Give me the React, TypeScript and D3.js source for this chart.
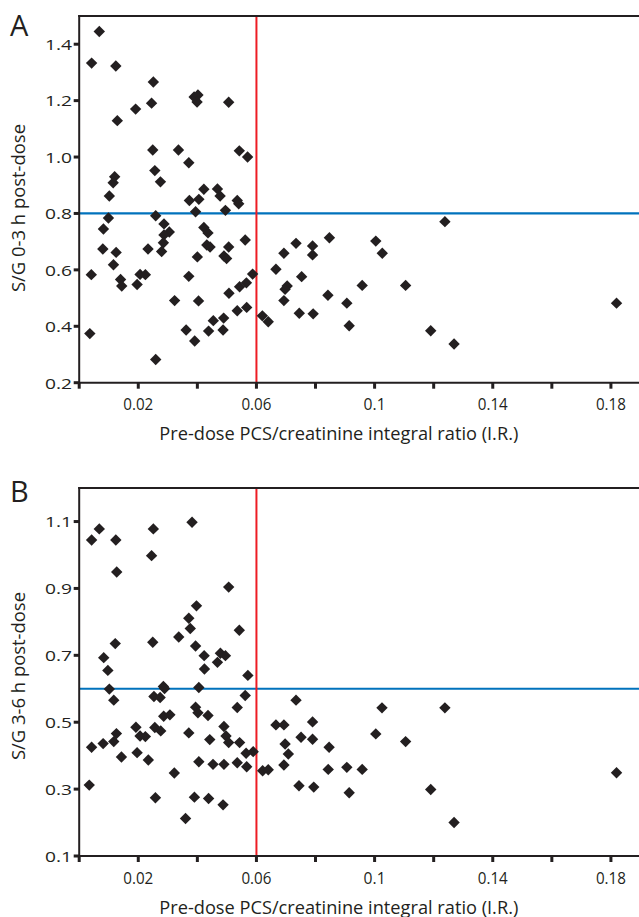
import React from "react";
import * as d3 from "d3";

// ---- Data ----
const xA = [0.0068,0.0042,0.0124,0.0251,0.0245,0.0191,0.0129,0.0389,0.0402,0.0399,
  0.0506,0.0249,0.0336,0.0542,0.0570,0.0371,0.0256,0.0120,0.0115,0.0275,
  0.0102,0.0422,0.0468,0.0477,0.0373,0.0405,0.0535,0.0540,0.0394,0.0495,
  0.0099,0.0259,0.0082,0.0287,0.0422,0.0305,0.0287,0.0436,0.0562,0.0285,
  0.0432,0.0443,0.0506,0.0080,0.0125,0.0233,0.0279,0.0400,0.0490,0.0499,
  0.0116,0.0041,0.0206,0.0224,0.0140,0.0144,0.0196,0.0371,0.0587,0.0566,
  0.0543,0.0507,0.0323,0.0404,0.0535,0.0567,0.0620,0.0640,0.0036,0.0362,
  0.0438,0.0454,0.0489,0.0487,0.0391,0.0259,0.0666,0.0693,0.0734,0.0790,
  0.0790,0.0847,0.0753,0.0704,0.0697,0.0693,0.0745,0.0792,0.0842,0.0958,
  0.0906,0.0914,0.1004,0.1026,0.1105,0.1238,0.1190,0.1269,0.1819];
const yA = [1.445,1.333,1.323,1.266,1.191,1.170,1.129,1.213,1.220,1.195,
  1.194,1.025,1.025,1.022,1.000,0.980,0.952,0.930,0.909,0.912,
  0.862,0.886,0.887,0.862,0.846,0.850,0.846,0.834,0.806,0.811,
  0.784,0.792,0.745,0.763,0.750,0.734,0.724,0.731,0.706,0.696,
  0.688,0.681,0.681,0.674,0.662,0.674,0.665,0.646,0.649,0.640,
  0.618,0.583,0.584,0.583,0.566,0.543,0.548,0.577,0.585,0.554,
  0.540,0.517,0.491,0.490,0.455,0.467,0.437,0.416,0.374,0.387,
  0.383,0.420,0.429,0.387,0.348,0.282,0.602,0.659,0.694,0.685,
  0.653,0.714,0.576,0.543,0.531,0.491,0.446,0.444,0.510,0.545,
  0.482,0.402,0.702,0.659,0.545,0.771,0.384,0.337,0.482];

const xB = [0.0042,0.0068,0.0124,0.0251,0.0245,0.0127,0.0382,0.0397,0.0371,0.0376,
  0.0337,0.0249,0.0122,0.0083,0.0394,0.0423,0.0478,0.0495,0.0468,0.0097,
  0.0424,0.0506,0.0542,0.0571,0.0285,0.0289,0.0102,0.0405,0.0117,0.0253,
  0.0274,0.0562,0.0535,0.0394,0.0402,0.0436,0.0286,0.0307,0.0490,0.0497,
  0.0506,0.0192,0.0256,0.0276,0.0126,0.0117,0.0371,0.0206,0.0224,0.0442,
  0.0543,0.0042,0.0081,0.0565,0.0589,0.0143,0.0196,0.0234,0.0405,0.0453,
  0.0490,0.0535,0.0567,0.0621,0.0640,0.0322,0.0034,0.0258,0.0390,0.0438,
  0.0487,0.0360,0.0734,0.0666,0.0693,0.0697,0.0708,0.0693,0.0751,0.0790,
  0.0790,0.0846,0.0843,0.0744,0.0794,0.0906,0.0958,0.0914,0.1004,0.1025,
  0.1105,0.1238,0.1190,0.1269,0.1819];
const yB = [1.045,1.078,1.045,1.078,0.998,0.949,1.098,0.848,0.811,0.780,
  0.755,0.739,0.735,0.693,0.728,0.699,0.706,0.699,0.679,0.655,
  0.659,0.904,0.775,0.640,0.607,0.601,0.599,0.604,0.566,0.577,
  0.574,0.580,0.544,0.545,0.528,0.520,0.518,0.522,0.487,0.459,
  0.439,0.485,0.484,0.474,0.466,0.442,0.468,0.459,0.457,0.448,
  0.439,0.425,0.436,0.407,0.412,0.396,0.409,0.387,0.382,0.374,
  0.374,0.379,0.367,0.355,0.358,0.348,0.312,0.274,0.276,0.272,
  0.253,0.212,0.566,0.492,0.492,0.435,0.405,0.372,0.455,0.501,
  0.449,0.425,0.359,0.310,0.306,0.365,0.359,0.289,0.465,0.543,
  0.442,0.543,0.299,0.200,0.349];

const xTicks = [0, 0.02, 0.04, 0.06, 0.08, 0.1, 0.12, 0.14, 0.16, 0.18];
const xTickLabelValues = [0.02, 0.06, 0.1, 0.14, 0.18];
const xTickLabels = ["0.02", "0.06", "0.1", "0.14", "0.18"];
const yTicksA = [0.2, 0.4, 0.6, 0.8, 1.0, 1.2, 1.4];
const yTickLabelsA = ["0.2", "0.4", "0.6", "0.8", "1.0", "1.2", "1.4"];
const yTicksB = [0.1, 0.3, 0.5, 0.7, 0.9, 1.1];
const yTickLabelsB = ["0.1", "0.3", "0.5", "0.7", "0.9", "1.1"];
const xThreshold = 0.06;
const yThresholdA = 0.8;
const yThresholdB = 0.6;
const xTitle = "Pre-dose PCS/creatinine integral ratio (I.R.)";
const yTitleA = "S/G 0-3 h post-dose";
const yTitleB = "S/G 3-6 h post-dose";

const INK = "#231f20";
const FONT = "'Open Sans', 'DejaVu Sans', sans-serif";

type PanelProps = {
  letter: string;
  xs: number[];
  ys: number[];
  yDomain: [number, number];
  top: number;
  bottom: number;
  yTicks: number[];
  yTickLabels: string[];
  yThreshold: number;
  yTitle: string;
  yTitleStart: number;
  letterBaseline: number;
};

const LEFT = 79.2;
const RIGHT_EDGE = 639;

function Panel(p: PanelProps) {
  const x = d3.scaleLinear().domain([0, 0.19]).range([LEFT, LEFT + 0.19 * 2954]);
  const y = d3.scaleLinear().domain(p.yDomain).range([p.bottom, p.top]);
  const r = 5.7;
  const diamond = `M0,${-r}L${r},0L0,${r}L${-r},0Z`;
  return (
    <g>
      <text x={10} y={p.letterBaseline} fontSize={29} fontFamily={FONT} fill={INK}>{p.letter}</text>
      {/* threshold lines */}
      <line x1={LEFT} x2={RIGHT_EDGE} y1={y(p.yThreshold)} y2={y(p.yThreshold)} stroke="#0072bc" strokeWidth={2.2} />
      <line x1={x(xThreshold)} x2={x(xThreshold)} y1={p.top} y2={p.bottom} stroke="#ed1c24" strokeWidth={2} />
      {/* frame */}
      <line x1={LEFT - 1} x2={RIGHT_EDGE} y1={p.top} y2={p.top} stroke={INK} strokeWidth={2} />
      <line x1={LEFT} x2={LEFT} y1={p.top - 1} y2={p.bottom + 1} stroke={INK} strokeWidth={2} />
      <line x1={LEFT - 1} x2={RIGHT_EDGE} y1={p.bottom} y2={p.bottom} stroke={INK} strokeWidth={2} />
      {/* x ticks */}
      {xTicks.map((t) => (
        <line key={"xt" + t} x1={x(t)} x2={x(t)} y1={p.bottom} y2={p.bottom + 6} stroke={INK} strokeWidth={3} />
      ))}
      {xTickLabelValues.map((t, i) => (
        <text key={"xl" + t} x={x(t)} y={p.bottom + 27.5} textAnchor="middle" fontSize={16} fontFamily={FONT} fill={INK}
          textLength={xTickLabels[i].length > 3 ? 30 : 22} lengthAdjust="spacingAndGlyphs">
          {xTickLabels[i]}
        </text>
      ))}
      {/* y ticks */}
      {p.yTicks.map((t, i) => (
        <g key={"yt" + t}>
          <line x1={LEFT - 5.5} x2={LEFT} y1={y(t)} y2={y(t)} stroke={INK} strokeWidth={3} />
          <text x={72} y={y(t) + 5.8} textAnchor="end" fontSize={15} fontFamily={FONT} fill={INK}
            textLength={27} lengthAdjust="spacingAndGlyphs">
            {p.yTickLabels[i]}
          </text>
        </g>
      ))}
      {/* axis titles */}
      <text x={338.8} y={p.bottom + 57.5} textAnchor="middle" fontSize={18} fontFamily={FONT} fill={INK}
        textLength={359} lengthAdjust="spacingAndGlyphs">
        {xTitle}
      </text>
      <text transform={`translate(25,${p.yTitleStart}) rotate(-90)`} x={0} y={0} fontSize={18} fontFamily={FONT} fill={INK}
        textLength={168} lengthAdjust="spacingAndGlyphs">
        {p.yTitle}
      </text>
      {/* points */}
      {p.xs.map((v, i) => (
        <path key={"pt" + i} d={diamond} transform={`translate(${x(v)},${y(p.ys[i])})`} fill={INK} />
      ))}
    </g>
  );
}

export default function App() {
  return (
    <svg width={639} height={917} style={{ position: "absolute", left: 0, top: 0, background: "#fff" }}>
      <rect width={639} height={917} fill="#fff" />
      <Panel letter="A" xs={xA} ys={yA} yDomain={[0.2, 1.5]} top={16} bottom={382.7}
        yTicks={yTicksA} yTickLabels={yTickLabelsA} yThreshold={yThresholdA} yTitle={yTitleA}
        yTitleStart={292} letterBaseline={36} />
      <Panel letter="B" xs={xB} ys={yB} yDomain={[0.1, 1.2]} top={488.1} bottom={856}
        yTicks={yTicksB} yTickLabels={yTickLabelsB} yThreshold={yThresholdB} yTitle={yTitleB}
        yTitleStart={760} letterBaseline={502} />
    </svg>
  );
}
